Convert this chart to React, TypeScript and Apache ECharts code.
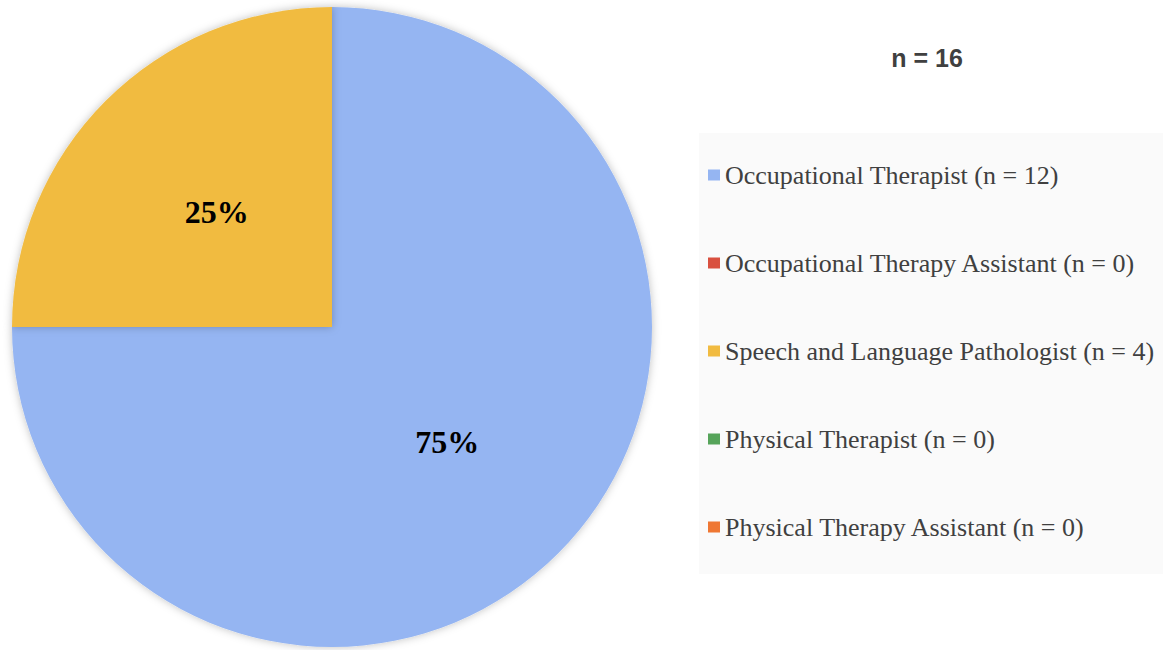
import React, { useEffect, useRef } from "react";
import * as echarts from "echarts";

const categories = [
  "Occupational Therapist (n = 12)",
  "Occupational Therapy Assistant (n = 0)",
  "Speech and Language Pathologist (n = 4)",
  "Physical Therapist (n = 0)",
  "Physical Therapy Assistant (n = 0)",
];
const counts = [12, 0, 4, 0, 0];
const colors = ["#95b5f2", "#d9503f", "#f1bb41", "#56a45a", "#ef7733"];
const totalLabel = "n = 16";

export default function App() {
  const ref = useRef<HTMLDivElement>(null);
  useEffect(() => {
    if (!ref.current) return;
    const chart = echarts.init(ref.current, undefined, { renderer: "svg" });
    chart.setOption({
      animation: false,
      backgroundColor: "#ffffff",
      title: {
        text: totalLabel,
        left: 922,
        top: 40,
        textAlign: "center",
        textStyle: {
          fontFamily: "Liberation Sans",
          fontWeight: "bold",
          fontSize: 25,
          color: "#404040",
        },
      },
      graphic: [
        {
          type: "rect",
          z: -1,
          shape: { x: 699, y: 133, width: 464, height: 441 },
          style: { fill: "#fafafa" },
        },
      ],
      legend: {
        orient: "vertical",
        left: 708,
        top: 162,
        padding: 0,
        icon: "rect",
        itemWidth: 12,
        itemHeight: 11,
        itemGap: 62,
        data: categories,
        textStyle: {
          fontFamily: "Liberation Serif",
          fontSize: 26,
          lineHeight: 26,
          color: "#404040",
        },
      },
      series: [
        {
          type: "pie",
          center: [332, 327],
          radius: 320,
          startAngle: 90,
          clockwise: true,
          avoidLabelOverlap: false,
          label: {
            show: true,
            position: "inside",
            fontFamily: "Liberation Serif",
            fontWeight: "bold",
            fontSize: 32,
            color: "#000000",
            formatter: (p: any) => (p.value ? p.percent + "%" : ""),
          },
          labelLine: { show: false },
          itemStyle: {
            shadowBlur: 8,
            shadowColor: "rgba(0,0,0,0.25)",
          },
          emphasis: { disabled: true },
          data: categories.map((name, i) => ({
            name,
            value: counts[i],
            itemStyle: { color: colors[i] },
          })),
        },
      ],
    });
    return () => chart.dispose();
  }, []);
  return (
    <div
      ref={ref}
      style={{ position: "fixed", left: 0, top: 0, width: 1163, height: 650 }}
    />
  );
}
